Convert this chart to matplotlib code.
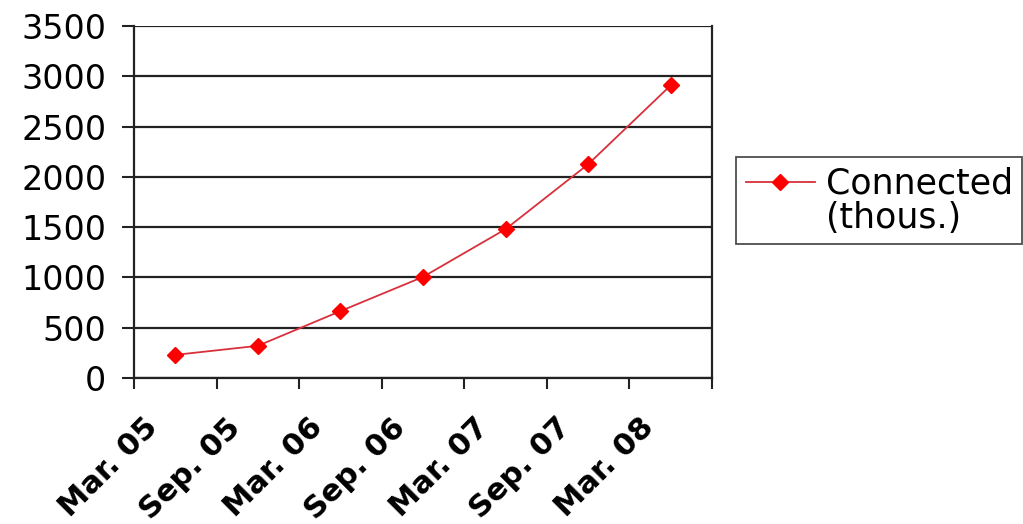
import matplotlib
matplotlib.use("Agg")
import matplotlib.pyplot as plt
from matplotlib.lines import Line2D
from matplotlib.transforms import ScaledTranslation
import numpy as np

# Data
periods = ["Mar. 05", "Sep. 05", "Mar. 06", "Sep. 06", "Mar. 07", "Sep. 07", "Mar. 08"]
connected = [230, 320, 665, 1005, 1480, 2125, 2910]

plt.rcParams["font.family"] = ["DejaVu Sans"]

fig = plt.figure(figsize=(10.23, 5.24), dpi=100)
ax = fig.add_axes([134 / 1023, 1 - 378 / 524, (712 - 134) / 1023, (378 - 26) / 524])

x = np.arange(len(periods))
line, = ax.plot(x, connected, color="#D8303C", linewidth=1.3, marker="D", markersize=8,
                markerfacecolor="#FF0000", markeredgecolor="#FF0000")

ax.set_xlim(-0.5, len(periods) - 0.5)
ax.set_ylim(0, 3500)
ax.set_yticks(np.arange(0, 3501, 500))
ax.yaxis.grid(True, color="#222222", linewidth=1.6)
ax.set_axisbelow(True)

ax.set_xticks(x)
ax.set_xticklabels(periods, rotation=45, ha="right", va="top", rotation_mode="anchor",
                   fontsize=22, fontweight="bold")
ax.set_xticks(np.arange(-0.5, len(periods)), minor=True)
ax.tick_params(axis="x", which="major", length=0, pad=25)
ax.tick_params(axis="x", which="minor", length=8, width=1.5, color="#222222")
ax.tick_params(axis="y", length=9, width=1.5, color="#222222", labelsize=24, pad=11)

# shift labels to the left, like the original (after tick_params, which resets transforms)
shift = ScaledTranslation(-32 / 100, 0, fig.dpi_scale_trans)
for lab in ax.get_xticklabels():
    lab.set_transform(lab.get_transform() + shift)

for side in ["left", "bottom", "right"]:
    ax.spines[side].set_color("#222222")
    ax.spines[side].set_linewidth(1.6)
ax.spines["top"].set_visible(False)

blank = Line2D([], [], linestyle="none")
leg = fig.legend([line, blank], ["Connected", "(thous.)"], loc="upper left",
                 bbox_to_anchor=(736 / 1023, 1 - 157 / 524),
                 frameon=True, fancybox=False, fontsize=25, handlelength=2.0,
                 borderaxespad=0, borderpad=0.28, handletextpad=0.3, labelspacing=0.0)
leg.get_frame().set_edgecolor("#222222")
leg.get_frame().set_linewidth(1.3)

fig.savefig("out.png", dpi=100)
